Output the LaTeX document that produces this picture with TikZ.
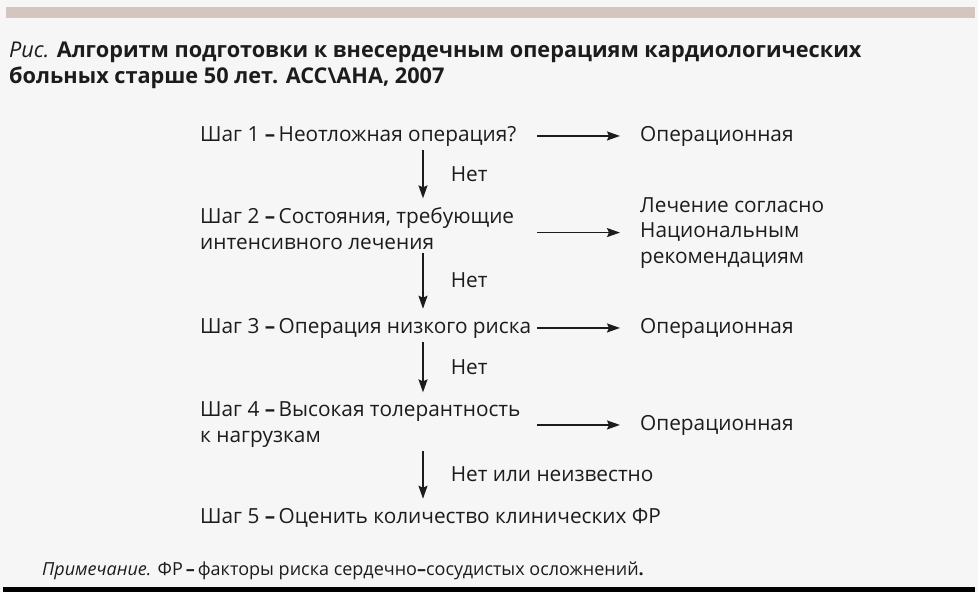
\documentclass[tikz,border=0pt]{standalone}
\usepackage{fontspec}
\setmainfont{Open Sans}
\usetikzlibrary{arrows.meta,positioning}
\definecolor{bandrose}{RGB}{212,197,193}
\definecolor{paper}{RGB}{246,246,246}
\definecolor{ink}{RGB}{28,28,28}
\newcommand{\bdash}{{\bfseries –}}

\begin{document}
\begin{tikzpicture}[
  x=1pt, y=-1pt,
  font=\fontsize{20.8}{25.5}\selectfont,
  stepnode/.style={anchor=base west, inner sep=0pt, align=left, text=ink},
  outnode/.style={anchor=base west, inner sep=0pt, align=left, text=ink},
  nolabel/.style={midway, right, xshift=27pt, yshift=3pt, inner sep=0pt, text=ink},
  flow/.style={->, line width=1.5pt, draw=ink, shorten <=4pt, shorten >=9pt},
  side/.style={->, line width=1.5pt, draw=ink, shorten >=20pt},
  >={Stealth[length=13pt,width=9pt,inset=2pt]}
]
\useasboundingbox (0,0) rectangle (978,592);
\fill[paper] (0,0) rectangle (978,592);
\fill[bandrose] (6,7) rectangle (975,18);
\fill[black] (3,587) rectangle (975,592);

% caption (base = last line)
\node[anchor=base west, inner sep=0pt, align=left, text=ink,
      font=\fontsize{21.7}{26}\selectfont] (title) at (9,83)
  {{\itshape Рис.} \bfseries Алгоритм подготовки к внесердечным операциям кардиологических\\
   \bfseries больных старше 50 лет. ACC\textbackslash AHA, 2007};

% steps
\node[stepnode] (s1) at (200,141) {Шаг 1 \bdash\,Неотложная операция?};
\node[stepnode] (s2) at (200,249) {Шаг 2 \bdash\,Состояния, требующие\\интенсивного лечения};
\node[stepnode] (s3) at (200,333) {Шаг 3 \bdash\,Операция низкого риска};
\node[stepnode] (s4) at (200,442) {Шаг 4 \bdash\,Высокая толерантность\\к нагрузкам};
\node[stepnode] (s5) at (200,523) {Шаг 5 \bdash\,Оценить количество клинических ФР};

% outcomes
\node[outnode] (o1) at (640,141) {Операционная};
\node[outnode] (o2) at (640,263) {Лечение согласно\\Национальным\\рекомендациям};
\node[outnode] (o3) at (640,333) {Операционная};
\node[outnode] (o4) at (640,430) {Операционная};

\coordinate (spine) at (423,0);
\coordinate (gate) at (537,0);

% down the steps
\draw[flow] (spine |- s1.south) -- (spine |- s2.north) node[nolabel] {Нет};
\draw[flow] (spine |- s2.south) -- (spine |- s3.north) node[nolabel] {Нет};
\draw[flow] (spine |- s3.south) -- (spine |- s4.north) node[nolabel] {Нет};
\draw[flow] (spine |- s4.south) -- (spine |- s5.north) node[nolabel] {Нет или неизвестно};

% to the outcomes
\draw[side] (gate |- o1.west) -- (o1.west);
\draw[side] (gate |- o2.west) -- (o2.west);
\draw[side] (gate |- o3.west) -- (o3.west);
\draw[side] (gate |- o4.west) -- (o4.west);

% note
\node[anchor=base west, inner sep=0pt, text=ink,
      font=\fontsize{18}{20}\selectfont] (note) at (42,575)
  {{\itshape Примечание.} ФР\,\bdash\,факторы риска сердечно\bdash сосудистых осложнений{\bfseries .}};
\end{tikzpicture}
\end{document}
